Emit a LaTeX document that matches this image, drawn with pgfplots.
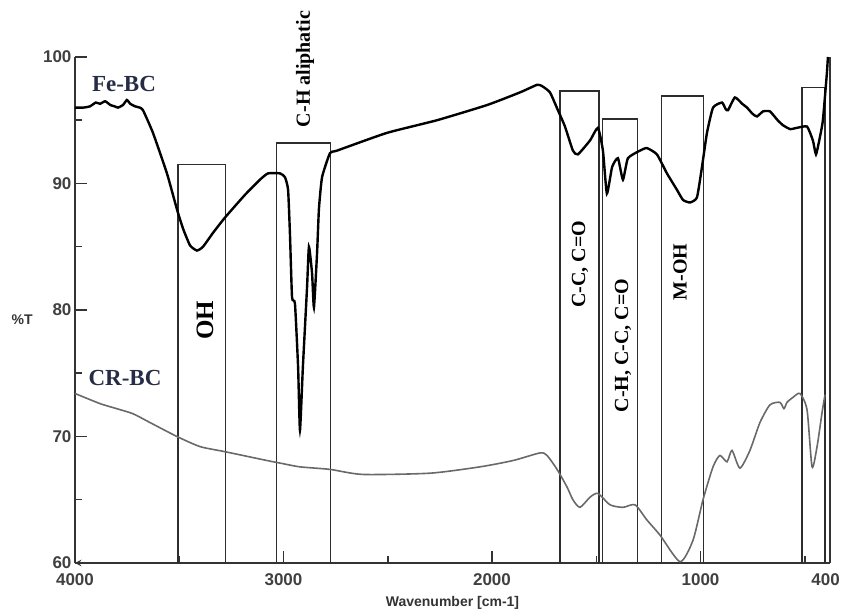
\documentclass[border=0pt]{standalone}
\usepackage{fontspec}
\setmainfont{Liberation Serif}
\setsansfont{Liberation Sans}
\usepackage{pgfplots}
\pgfplotsset{compat=1.18}
\definecolor{lblue}{RGB}{38,44,70}
\definecolor{crgray}{RGB}{105,105,105}
\definecolor{boxgray}{RGB}{45,45,45}

\begin{document}
\begin{tikzpicture}
\useasboundingbox (-75pt,-52pt) rectangle (769pt,563pt);
\begin{axis}[
  at={(0,0)}, anchor=south west,
  scale only axis,
  width=755pt, height=506pt,
  x dir=reverse,
  xmin=379, xmax=4000,
  ymin=60, ymax=100,
  axis x line=bottom,
  axis y line=box,
  ytick pos=left,
  axis line style={line width=1.8pt, black!80},
  every tick/.style={line width=1.5pt, black!80},
  tick align=inside,
  major tick length=12pt,
  minor tick length=7pt,
  xtick={4000,3000,2000,1000,400},
  xticklabels={4000,3000,2000,1000,400},
  minor xtick={3500,2500,1500,500},
  ytick={60,70,80,90,100},
  minor ytick={65,75,85,95},
  /pgf/number format/assume math mode=true,
  /pgf/number format/1000 sep={},
  tick label style={font=\fontsize{17}{17}\selectfont\sffamily\bfseries, black!75},
  xticklabel style={yshift=-7pt},
  xlabel={Wavenumber [cm-1]},
  xlabel style={font=\fontsize{14}{14}\selectfont\sffamily\bfseries, black!80, at={(axis description cs:0.5,0)}, anchor=center, yshift=-40pt},
  ylabel={\%T},
  ylabel style={font=\fontsize{14}{14}\selectfont\sffamily\bfseries, black!80, rotate=-90, at={(axis description cs:-0.070,0.48)}, anchor=center},
  clip=false,
]
% boxes
\addplot[boxgray, line width=1.6pt] coordinates {(3505,60) (3505,91.5) (3279,91.5) (3279,60)};
\addplot[boxgray, line width=1.6pt] coordinates {(3034,60) (3034,93.2) (2774,93.2) (2774,60)};
\addplot[boxgray, line width=1.6pt] coordinates {(1673,60) (1673,97.3) (1486,97.3) (1486,60)};
\addplot[boxgray, line width=1.6pt] coordinates {(1471,60) (1471,95.1) (1303,95.1) (1303,60)};
\addplot[boxgray, line width=1.6pt] coordinates {(1188,60) (1188,96.9) (986,96.9) (986,60)};
\addplot[boxgray, line width=1.6pt] coordinates {(514,60) (514,97.6) (404,97.6) (404,60)};

% CR-BC
\addplot[crgray, line width=1.6pt, smooth, tension=0.4] coordinates {
(4000,73.4) (3880,72.6) (3800,72.2) (3722,71.8) (3640,71.1) (3511,70.0) (3400,69.2)
(3281,68.8) (3079,68.1) (3017,67.9) (2921,67.6) (2777,67.4) (2619,67.0)
(2297,67.1) (2058,67.6) (1899,68.1) (1770,68.7) (1736,68.5) (1688,67.4)
(1640,66.0) (1612,65.0) (1578,64.4) (1530,65.2) (1492,65.5) (1434,64.6)
(1372,64.4) (1314,64.6) (1257,63.4) (1194,62.2) (1098,60.1) (1036,61.8)
(988,65.0) (940,67.6) (907,68.5) (873,68.0) (849,68.9) (811,67.5)
(763,68.9) (715,71.1) (667,72.5) (619,72.7) (600,72.2) (585,72.7)
(556,73.1) (523,73.4) (489,72.1) (465,67.6) (441,69.2) (417,71.9) (403,73.3)
};

% Fe-BC
\addplot[black, line width=2.4pt, smooth, tension=0.3] coordinates {
(4000,96.0) (3960,96.0) (3928,96.1) (3900,96.4) (3880,96.3) (3855,96.5)
(3830,96.2) (3810,96.1) (3794,96.0) (3770,96.2) (3751,96.6) (3735,96.3)
(3712,96.1) (3690,96.0) (3674,95.8) (3626,94.0) (3559,90.8) (3510,87.9)
(3481,86.4) (3448,85.1) (3415,84.7) (3386,85.0) (3338,86.1) (3281,87.3)
(3185,89.1) (3113,90.3) (3074,90.8) (3017,90.8) (2993,90.5) (2978,89.5)
(2969,86.0) (2959,81.0) (2945,80.5) (2930,75.5) (2921,70.5) (2907,75.5)
(2887,81.8) (2878,85.0) (2863,82.9) (2854,80.2) (2839,84.5) (2830,88.0)
(2815,90.5) (2777,92.4) (2743,92.6) (2504,94.0) (2264,95.0) (2024,96.2)
(1866,97.2) (1784,97.8) (1760,97.7) (1722,97.2) (1684,95.8) (1650,94.5)
(1612,92.6) (1588,92.3) (1530,93.4) (1492,94.4) (1468,92.6) (1449,89.2)
(1424,91.3) (1396,92.0) (1372,90.3) (1348,92.0) (1290,92.6) (1257,92.8)
(1209,92.3) (1161,90.8) (1113,89.5) (1084,88.7) (1050,88.5) (1017,88.9)
(993,91.3) (969,94.0) (940,96.0) (897,96.4) (880,95.9) (868,95.8) (835,96.8)
(800,96.3) (777,96.0) (750,95.5) (729,95.3) (700,95.7) (667,95.7) (630,95.0) (604,94.6) (570,94.3) (537,94.4) (489,94.5)
(461,93.4) (446,92.3) (427,93.7) (413,95.0) (394,98.7) (389,100)
};

% annotations
\node[font=\fontsize{23}{23}\selectfont\bfseries, lblue] at (axis cs:3765,97.9) {Fe-BC};
\node[font=\fontsize{23}{23}\selectfont\bfseries, lblue] at (axis cs:3760,74.6) {CR-BC};
\node[font=\fontsize{25}{25}\selectfont\bfseries, rotate=90] at (axis cs:3377,79.2) {OH};
\node[font=\fontsize{20}{20}\selectfont\bfseries, rotate=90] at (axis cs:2897,99.05) {C-H aliphatic};
\node[font=\fontsize{20}{20}\selectfont\bfseries, rotate=90] at (axis cs:1578,83.6) {C-C, C=O};
\node[font=\fontsize{20}{20}\selectfont\bfseries, rotate=90] at (axis cs:1372,77.2) {C-H, C-C, C=O};
\node[font=\fontsize{20}{20}\selectfont\bfseries, rotate=90] at (axis cs:1098,83.0) {M-OH};
\end{axis}
\end{tikzpicture}
\end{document}
